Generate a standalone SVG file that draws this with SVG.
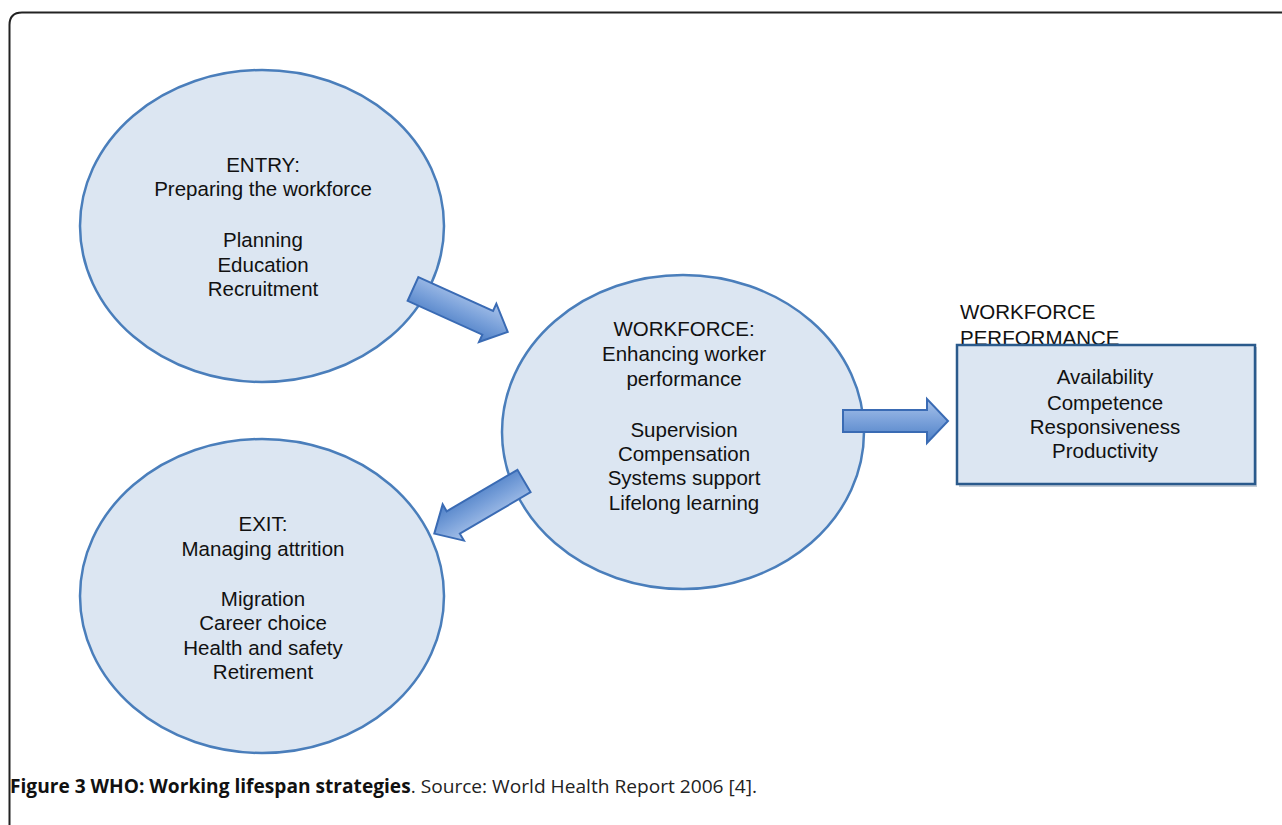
<svg xmlns="http://www.w3.org/2000/svg" width="1282" height="825" viewBox="0 0 1282 825">
<defs>
<style>
.t{font-family:"Liberation Sans",Arial,sans-serif;font-size:20.5px;fill:#111;text-anchor:middle}
.tl{font-family:"Liberation Sans",Arial,sans-serif;font-size:20.5px;fill:#111}
.ell{fill:#dce6f2;stroke:#4a7ebb;stroke-width:2.5}
.arr{fill:url(#ag);stroke:#3a6bb4;stroke-width:2;stroke-linejoin:miter}
.cap{font-family:"Open Sans","Liberation Sans",sans-serif;font-size:19px;fill:#222}
</style>
<linearGradient id="ag" x1="0" y1="0" x2="0" y2="1">
<stop offset="0" stop-color="#a9c3ea"/>
<stop offset="0.5" stop-color="#7aa1da"/>
<stop offset="1" stop-color="#4d7fc6"/>
</linearGradient>
<path id="arrA" d="M0,-13 H82 V-21 L104,0 L82,21 V13 H0 Z"/>
<path id="arrB" d="M0,-11 H84 V-22 L105,0 L84,22 V11 H0 Z"/>
</defs>
<rect width="1282" height="825" fill="#fff"/>
<path d="M9.5,825 V25 Q9.5,12.5 22,12.5 H1282" fill="none" stroke="#222" stroke-width="2"/>

<g id="entry">
<ellipse class="ell" cx="262" cy="226" rx="182" ry="156"/>
<text class="t" x="263" y="172">ENTRY:</text>
<text class="t" x="263" y="196">Preparing the workforce</text>
<text class="t" x="263" y="247">Planning</text>
<text class="t" x="263" y="272">Education</text>
<text class="t" x="263" y="296">Recruitment</text>
</g>

<g id="workforce">
<ellipse class="ell" cx="683" cy="432" rx="181" ry="157"/>
<text class="t" x="684" y="336">WORKFORCE:</text>
<text class="t" x="684" y="361">Enhancing worker</text>
<text class="t" x="684" y="386">performance</text>
<text class="t" x="684" y="437">Supervision</text>
<text class="t" x="684" y="461">Compensation</text>
<text class="t" x="684" y="485">Systems support</text>
<text class="t" x="684" y="510">Lifelong learning</text>
</g>

<g id="exit">
<ellipse class="ell" cx="262" cy="596" rx="182" ry="157"/>
<text class="t" x="263" y="531">EXIT:</text>
<text class="t" x="263" y="556">Managing attrition</text>
<text class="t" x="263" y="606">Migration</text>
<text class="t" x="263" y="630">Career choice</text>
<text class="t" x="263" y="655">Health and safety</text>
<text class="t" x="263" y="679">Retirement</text>
</g>

<g id="performance">
<text class="tl" x="960" y="319">WORKFORCE</text>
<text class="tl" x="960" y="345">PERFORMANCE</text>
<rect x="959" y="347" width="298" height="140" fill="#8a9bb0" opacity="0.5"/>
<rect x="957" y="345" width="298" height="139" fill="#dce6f2" stroke="#2a5a8c" stroke-width="2.5"/>
<text class="t" x="1105" y="384">Availability</text>
<text class="t" x="1105" y="410">Competence</text>
<text class="t" x="1105" y="434">Responsiveness</text>
<text class="t" x="1105" y="458">Productivity</text>
</g>

<g id="connectors">
<use href="#arrA" class="arr" transform="translate(413,289) rotate(24.4)"/>
<use href="#arrB" class="arr" transform="translate(843,421)"/>
<use href="#arrA" class="arr" transform="translate(524,481) rotate(149.6)"/>
</g>

<g id="caption">
<text class="cap" x="10" y="793" textLength="747" lengthAdjust="spacingAndGlyphs"><tspan font-weight="bold" fill="#111">Figure 3 WHO: Working lifespan strategies</tspan>. Source: World Health Report 2006 [4].</text>
</g>
</svg>
